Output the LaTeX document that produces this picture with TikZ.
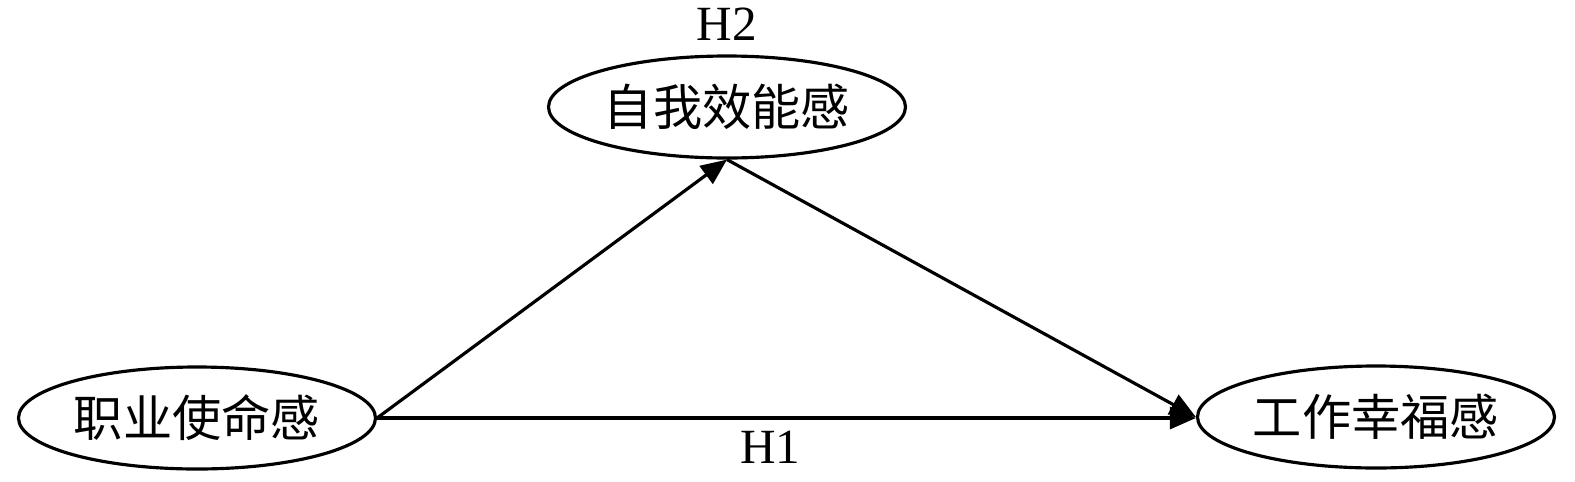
\documentclass[tikz,border=0pt]{standalone}
\usepackage{fontspec}
\setmainfont{Liberation Serif}
\newfontfamily\cjk{Noto Sans CJK SC}
\usetikzlibrary{arrows.meta, positioning, shapes.geometric}

\begin{document}
\begin{tikzpicture}[
    font=\fontsize{14}{16}\selectfont,
    var/.style={
        draw, ellipse,
        line width=0.9pt,
        inner sep=0pt,
        minimum width=3.57cm,
        minimum height=1.02cm,
        font=\fontsize{14}{16}\selectfont\cjk
    },
    arrow/.style={-{Triangle[length=0.26cm,width=0.22cm]}, line width=0.9pt},
    note/.style={font=\fontsize{14}{16}\selectfont}
]
\useasboundingbox (0,0) rectangle (15.75,4.81);

% ===== VARIABLES =====
\node[var] (mission) at (1.97,0.63) {职业使命感};
\node[var] (efficacy) at (7.27,3.74) {自我效能感};
\node[var] (wellbeing) at (13.76,0.64) {工作幸福感};

% ===== HYPOTHESIS LABELS =====
\node[note, above=0.02cm of efficacy] (h2) {H2};

% ===== PATHS =====
\draw[arrow] (mission.east) -- (efficacy.south);
\draw[arrow] (efficacy.south) -- (wellbeing.west);
\draw[arrow] (mission.east) -- node[below, note, pos=0.48] (h1) {H1} (wellbeing.west |- mission.east);

\end{tikzpicture}
\end{document}
